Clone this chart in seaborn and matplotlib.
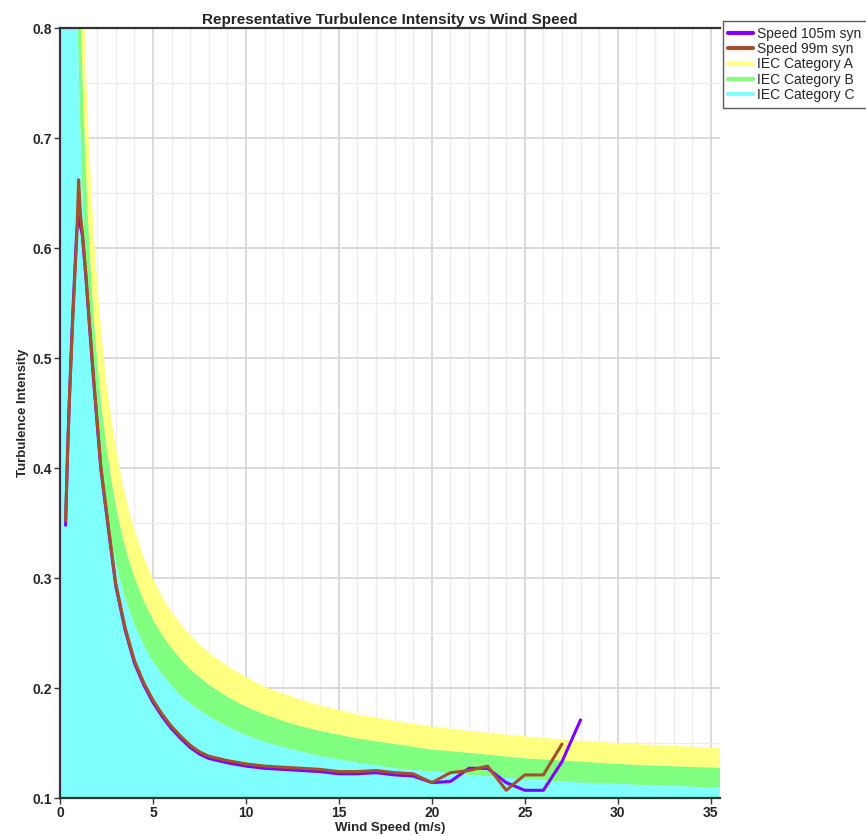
import numpy as np
import pandas as pd
import seaborn as sns
import matplotlib.pyplot as plt
from matplotlib.lines import Line2D
from matplotlib.ticker import MultipleLocator

# measured turbulence intensity by wind speed bin
speed_bins = [0.3, 0.4, 0.5, 0.6, 0.7, 0.8, 0.9, 1.0, 1.1, 1.2, 1.4, 1.6, 1.8, 2.0,
              2.2, 2.4, 2.6, 2.8, 3.0, 3.5, 4.0, 4.5, 5.0, 5.5, 6.0, 6.5, 7.0, 7.5,
              8.0, 9, 10, 11, 12, 13, 14, 15, 16, 17, 18, 19, 20, 21, 22, 23, 24,
              25, 26, 27, 28]
ti_105m = [0.348, 0.41, 0.46, 0.505, 0.545, 0.58, 0.615, 0.63, 0.62, 0.612, 0.572, 0.526,
           0.481, 0.44, 0.399, 0.372, 0.345, 0.319, 0.293, 0.253, 0.223, 0.203, 0.187,
           0.174, 0.163, 0.154, 0.146, 0.140, 0.136, 0.132, 0.129, 0.127, 0.126,
           0.125, 0.124, 0.122, 0.122, 0.123, 0.121, 0.120, 0.114, 0.115, 0.127,
           0.127, 0.114, 0.107, 0.107, 0.133, 0.171]
ti_99m = [0.352, 0.41, 0.46, 0.50, 0.54, 0.575, 0.61, 0.662, 0.63, 0.615, 0.574, 0.528,
          0.483, 0.442, 0.40, 0.374, 0.347, 0.321, 0.295, 0.255, 0.225, 0.205, 0.189,
          0.176, 0.165, 0.156, 0.148, 0.142, 0.138, 0.134, 0.131, 0.129, 0.128,
          0.127, 0.126, 0.124, 0.124, 0.125, 0.123, 0.122, 0.114, 0.123, 0.125,
          0.129, 0.107, 0.121, 0.121, 0.149, np.nan]

# IEC category limits (upper edge of each band)
iec_speed = [0.0, 0.5, 0.75, 1.0, 1.1, 1.25, 1.4, 1.5, 1.6, 1.75, 1.85, 2.0, 2.25, 2.5,
             2.75, 3.0, 3.25, 3.5, 3.75, 4.0, 4.5, 5.0, 5.5, 6.0, 6.5, 7.0, 7.5, 8.0,
             9.0, 10.0, 11.0, 12.0, 13.0, 14.0, 16.0, 18.0, 20.0, 22.0, 25.0, 28.0,
             31.0, 36.0]
iec_a = [2.0, 1.912, 1.315, 1.016, 0.935, 0.837, 0.760, 0.717, 0.680, 0.632, 0.604,
         0.568, 0.518, 0.478, 0.446, 0.419, 0.396, 0.376, 0.359, 0.344, 0.319, 0.299,
         0.283, 0.269, 0.258, 0.248, 0.240, 0.232, 0.220, 0.210, 0.201, 0.195, 0.189,
         0.184, 0.176, 0.170, 0.165, 0.161, 0.156, 0.152, 0.149, 0.145]
iec_b = [2.0, 1.673, 1.150, 0.889, 0.818, 0.732, 0.665, 0.628, 0.595, 0.553, 0.529,
         0.497, 0.453, 0.419, 0.390, 0.366, 0.346, 0.329, 0.314, 0.301, 0.279, 0.262,
         0.248, 0.236, 0.226, 0.217, 0.210, 0.203, 0.192, 0.183, 0.176, 0.170, 0.165,
         0.161, 0.154, 0.149, 0.144, 0.141, 0.136, 0.133, 0.130, 0.127]
iec_c = [2.0, 1.434, 0.986, 0.762, 0.701, 0.628, 0.570, 0.538, 0.510, 0.474, 0.453,
         0.426, 0.389, 0.359, 0.334, 0.314, 0.297, 0.282, 0.269, 0.258, 0.239, 0.224,
         0.212, 0.202, 0.193, 0.186, 0.180, 0.174, 0.165, 0.157, 0.151, 0.146, 0.142,
         0.138, 0.132, 0.127, 0.124, 0.121, 0.117, 0.114, 0.112, 0.109]

df = pd.DataFrame({"speed": speed_bins, "Speed 105m syn": ti_105m, "Speed 99m syn": ti_99m})
long_df = df.melt(id_vars="speed", var_name="series", value_name="ti").dropna()

sns.set_style("white")
plt.rcParams['font.family'] = ['Liberation Sans', 'DejaVu Sans']

fig = plt.figure(figsize=(8.66, 8.36), dpi=100)
ax = fig.add_axes([60 / 866, 1 - 798 / 836, 660 / 866, 770 / 836])

col_a, col_b, col_c = '#FFFF80', '#80FF80', '#80FFFF'
ax.fill_between(iec_speed, iec_b, iec_a, color=col_a, lw=0, zorder=1)
ax.fill_between(iec_speed, iec_c, iec_b, color=col_b, lw=0, zorder=1)
ax.fill_between(iec_speed, 0, iec_c, color=col_c, lw=0, zorder=1)

line_cols = {"Speed 105m syn": '#8000FF', "Speed 99m syn": '#A0522D'}
sns.lineplot(data=long_df, x="speed", y="ti", hue="series", palette=line_cols,
             lw=2.2, ax=ax, legend=False, zorder=3, sort=False, estimator=None)

ax.set_xlim(0, 35.5)
ax.set_ylim(0.1, 0.8)
ax.xaxis.set_major_locator(MultipleLocator(5))
ax.xaxis.set_minor_locator(MultipleLocator(1))
ax.yaxis.set_major_locator(MultipleLocator(0.1))
ax.yaxis.set_minor_locator(MultipleLocator(0.05))
ax.yaxis.set_major_formatter(plt.FormatStrFormatter('%.1f'))
ax.set_axisbelow(True)
ax.grid(which='major', color='#D4D4D4', lw=1.2)
ax.grid(which='minor', color='#EDEDED', lw=1.0)
ax.tick_params(axis='both', which='major', direction='out', length=4, width=1,
               labelsize=10, color='#333333', bottom=True, left=True, pad=2)
for lab in ax.get_xticklabels() + ax.get_yticklabels():
    lab.set_fontweight('bold')

for side in ['left', 'bottom', 'top']:
    ax.spines[side].set_color('#333333')
    ax.spines[side].set_linewidth(1.6)
ax.spines['right'].set_visible(False)

ax.set_title("Representative Turbulence Intensity vs Wind Speed", fontsize=11,
             fontweight='bold', pad=3)
ax.set_xlabel("Wind Speed (m/s)", fontsize=9.5, fontweight='bold', labelpad=1)
ax.set_ylabel("Turbulence Intensity", fontsize=9.5, fontweight='bold', labelpad=2)

handles = [Line2D([], [], color='#8000FF', lw=3),
           Line2D([], [], color='#A0522D', lw=3),
           Line2D([], [], color=col_a, lw=3),
           Line2D([], [], color=col_b, lw=3),
           Line2D([], [], color=col_c, lw=3)]
labels = ["Speed 105m syn", "Speed 99m syn", "IEC Category A", "IEC Category B",
          "IEC Category C"]
leg = ax.legend(handles, labels, loc='upper left', bbox_to_anchor=(1.004, 1.009),
                frameon=True, fancybox=False, fontsize=10, handlelength=1.8,
                handletextpad=0.3, labelspacing=0.1, borderaxespad=0, borderpad=0.4)
leg.get_frame().set_edgecolor('#333333')
leg.get_frame().set_linewidth(1.0)

fig.savefig("out.png", dpi=100)
